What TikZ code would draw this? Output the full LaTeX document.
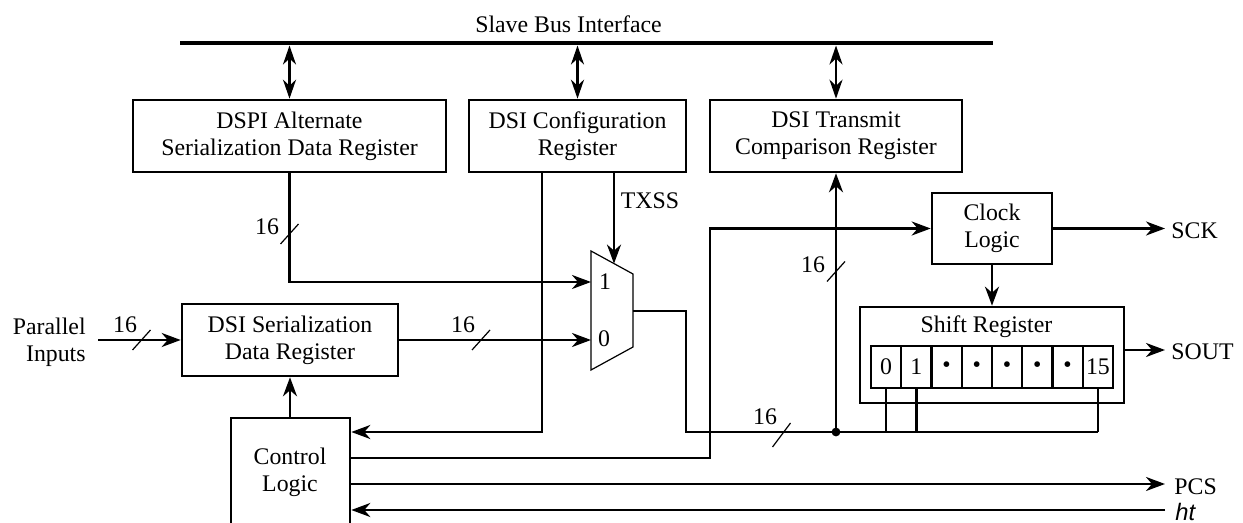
\documentclass[tikz,border=0pt]{standalone}
\usepackage{fontspec}
\setmainfont{Liberation Serif}
\newfontfamily\htfont{Liberation Sans}
\usetikzlibrary{arrows.meta}
\begin{document}
\begin{tikzpicture}[x=0.5pt,y=-0.5pt,
  font=\fontsize{11.9}{13.5}\selectfont,
  box/.style={draw,line width=1.3pt,rectangle,inner sep=0pt,align=center},
  ln/.style={line width=1.25pt},
  arr/.style={ln,-{Stealth[length=9.5pt,width=7pt,inset=3pt]}},
  dbl/.style={ln,{Stealth[length=9.5pt,width=6.5pt,inset=3pt]}-{Stealth[length=9.5pt,width=6.5pt,inset=3pt]}},
  slash/.style={line width=0.6pt},
  lbl/.style={inner sep=0pt},
  cell/.style={draw,line width=1.1pt,minimum width=15.125pt,minimum height=21pt,inner sep=0pt},
  dotc/.style={inner sep=0pt,font=\fontsize{8}{8}\selectfont},
]
\useasboundingbox (0,0) rectangle (1243,523);

% slave bus
\coordinate (busL) at (180,43);
\coordinate (busR) at (993,43);
\coordinate (busB) at (0,45.5);
\draw[line width=2.2pt] (busL) -- (busR);
\node[lbl,anchor=base] (bustxt) at (568.5,33) {Slave Bus Interface};

% top registers
\node[box,minimum width=156.5pt,minimum height=36pt] (alt) at (289.5,136) {DSPI Alternate\\Serialization Data Register};
\node[box,minimum width=108.5pt,minimum height=36pt] (cfg) at (577.5,136) {DSI Configuration\\Register};
\node[box,minimum width=126pt,minimum height=36pt] (tcr) at (836,136) {DSI Transmit\\Comparison Register};
\draw[dbl] (alt.north) -- (alt.north |- busB);
\draw[dbl] (cfg.north) -- (cfg.north |- busB);
\draw[dbl] (tcr.north) -- (tcr.north |- busB);

% parallel inputs and serialization register
\node[lbl,align=right,anchor=east] (pin) at (86,342) {Parallel\\Inputs};
\node[box,minimum width=108pt,minimum height=36pt] (sdr) at (290,340) {DSI Serialization\\Data Register};
\coordinate (pinS) at (98,340);
\draw[arr] (pinS) -- (sdr.west);
\draw[slash] (141.5,340) ++(-9,10) -- ++(18,-20);
\node[lbl] (w1) at (125,325) {16};

% multiplexer
\coordinate (m1) at (591,251);
\coordinate (m2) at (633,274);
\coordinate (m3) at (633,347);
\coordinate (m4) at (591,370);
\draw[line width=0.6pt] (m1) -- (m2) -- (m3) -- (m4) -- cycle;
\coordinate (mux1) at (591,282);
\coordinate (mux0) at (591,340);
\coordinate (muxo) at (633,311);
\coordinate (muxs) at (614,263.6);
\node[lbl] (l1) at (605,282) {1};
\node[lbl] (l0) at (604,339) {0};

\draw[arr] (alt.south) |- (mux1);
\draw[slash] (289.5,234) ++(-9,10) -- ++(18,-20);
\node[lbl] (w2) at (267,227) {16};

\draw[arr] (sdr.east) -- (mux0);
\draw[slash] (481,340) ++(-9,10) -- ++(18,-20);
\node[lbl] (w3) at (463,325) {16};

% control logic
\node[draw,line width=1.3pt,minimum width=59.5pt,minimum height=70pt,inner sep=0pt] (ctrl) at (290.5,488) {};
\node[lbl,align=center] (ctrltxt) at (290,472) {Control\\Logic};
\draw[arr] (sdr.south |- ctrl.north) -- (sdr.south);

\coordinate (cfgX) at (542,432);
\draw[arr] (cfg.south -| cfgX) -- (cfgX) -- (ctrl.east |- cfgX);
\draw[arr] (cfg.south -| muxs) -- (muxs);
\node[lbl] (txss) at (650,201) {TXSS};

% clock logic
\node[box,minimum width=60pt,minimum height=35.5pt] (clk) at (992,228.5) {Clock\\Logic};
\coordinate (cc) at (710,458);
\draw[arr] (ctrl.east |- cc) -- (cc) |- (clk.west);
\coordinate (sck) at (1165,228.5);
\draw[arr] (clk.east) -- (sck);
\node[lbl,anchor=west] (scktxt) at (1171,231) {SCK};

% shift register
\node[draw,line width=1.3pt,minimum width=132pt,minimum height=48pt,inner sep=0pt] (sh) at (992,355) {};
\node[lbl,anchor=base] (shtxt) at (986.5,333) {Shift Register};
\draw[arr] (clk.south) -- (sh.north);
\node[cell] (c0) at (886.1,367) {0};
\node[cell] (c1) at (916.4,367) {1};
\node[cell] (c2) at (946.6,367) {•};
\node[cell] (c3) at (976.9,367) {•};
\node[cell] (c4) at (1007.1,367) {•};
\node[cell] (c5) at (1037.4,367) {•};
\node[cell] (c6) at (1067.6,367) {•};
\node[cell] (c7) at (1097.9,367) {15};
\coordinate (sout) at (1165,350);
\draw[arr] (sh.east |- sout) -- (sout);
\node[lbl,anchor=west] (souttxt) at (1171,352) {SOUT};

% data bus from mux and shift register taps
\coordinate (bend) at (686,432);
\draw[ln] (muxo) -| (bend) -- (c7.south |- bend);
\draw[ln] (c0.south) -- (c0.south |- bend);
\draw[ln] (c1.south) -- (c1.south |- bend);
\draw[ln] (c7.south) -- (c7.south |- bend);
\coordinate (dot) at (tcr.south |- bend);
\fill (dot) circle[radius=2.2pt];
\draw[arr] (dot) -- (tcr.south);
\draw[slash] (836,271.5) ++(-9,10) -- ++(18,-20);
\node[lbl] (w4) at (813,265) {16};
\draw[slash] (781.5,435) ++(-9,12) -- ++(18,-24);
\node[lbl] (w5) at (765,417) {16};

% PCS and ht
\coordinate (pcs) at (1165,484);
\draw[arr] (ctrl.east |- pcs) -- (pcs);
\node[lbl,anchor=west] (pcstxt) at (1174,487) {PCS};
\coordinate (htc) at (1165,510);
\draw[arr] (htc) -- (ctrl.east |- htc);
\node[lbl,anchor=west] (httxt) at (1175,512) {\htfont\itshape ht};
\end{tikzpicture}
\end{document}
